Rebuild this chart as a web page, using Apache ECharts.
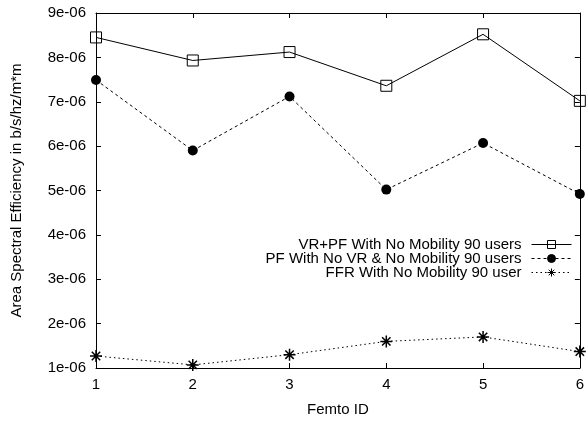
<!DOCTYPE html>
<html><head><meta charset="utf-8">
<script src="https://cdn.jsdelivr.net/npm/echarts@6/dist/echarts.min.js"></script>
<style>html,body{margin:0;padding:0;background:#fff}#c{width:587px;height:422px}</style>
</head><body><div id="c"></div>
<script>
const categories = [1, 2, 3, 4, 5, 6];
const seriesNames = ['VR+PF With No Mobility 90 users', 'PF With No VR & No Mobility 90 users', 'FFR With No Mobility 90 user'];
const vrpf = [8.45e-6, 7.93e-6, 8.12e-6, 7.36e-6, 8.52e-6, 7.02e-6];
const pfNoVr = [7.49e-6, 5.90e-6, 7.12e-6, 5.02e-6, 6.07e-6, 4.92e-6];
const ffr = [1.27e-6, 1.07e-6, 1.30e-6, 1.60e-6, 1.70e-6, 1.37e-6];
const yTicks = [1e-6, 2e-6, 3e-6, 4e-6, 5e-6, 6e-6, 7e-6, 8e-6, 9e-6];

const font = 'Liberation Sans, Arial, Helvetica, sans-serif';
const fs = 15;
const chart = echarts.init(document.getElementById('c'), null, {renderer: 'canvas'});
const toPairs = arr => arr.map((v, i) => [categories[i], v]);
const fmtY = v => Math.round(v * 1e6) + 'e-06';
const star = 'path://M0,5L10,5M5,0L5,10M1.5,1.5L8.5,8.5M8.5,1.5L1.5,8.5';
const legendBase = {orient: 'vertical', right: 10, itemWidth: 40, itemHeight: 10, itemGap: 4, align: 'right',
  lineStyle: {width: 1}, itemStyle: {borderWidth: 1},
  textStyle: {fontFamily: font, fontSize: fs, color: '#000', padding: [0, 5, 0, 0]}, selectedMode: false};
const option = {
  animation: false,
  backgroundColor: '#fff',
  grid: {left: 96, right: 5, top: 13, bottom: 53, show: false},
  legend: [
    Object.assign({}, legendBase, {top: 232, data: [seriesNames[0]]}),
    Object.assign({}, legendBase, {top: 246, data: [seriesNames[1]]}),
    Object.assign({}, legendBase, {top: 260, data: [seriesNames[2]]})
  ],
  xAxis: [{
    type: 'value', min: 1, max: 6, interval: 1,
    name: 'Femto ID', nameLocation: 'middle', nameGap: 34,
    nameTextStyle: {fontFamily: font, fontSize: fs, color: '#000'},
    axisLine: {lineStyle: {color: '#000', width: 1}},
    axisTick: {inside: true, length: 5, lineStyle: {color: '#000'}},
    axisLabel: {fontFamily: font, fontSize: fs, color: '#000', margin: 9},
    splitLine: {show: false}
  }, {
    type: 'value', min: 1, max: 6, interval: 1, position: 'top',
    axisLine: {lineStyle: {color: '#000', width: 1}},
    axisTick: {inside: true, length: 5, lineStyle: {color: '#000'}},
    axisLabel: {show: false}, splitLine: {show: false}
  }],
  yAxis: [{
    type: 'value', min: 1e-6, max: 9e-6, interval: 1e-6,
    name: 'Area Spectral Efficiency in b/s/hz/m*m', nameLocation: 'middle', nameGap: 72,
    nameTextStyle: {fontFamily: font, fontSize: fs, color: '#000'},
    axisLine: {show: true, lineStyle: {color: '#000', width: 1}},
    axisTick: {show: true, inside: true, length: 5, lineStyle: {color: '#000'}},
    axisLabel: {fontFamily: font, fontSize: fs, color: '#000', margin: 10, formatter: fmtY},
    splitLine: {show: false}
  }, {
    type: 'value', min: 1e-6, max: 9e-6, interval: 1e-6, position: 'right',
    axisLine: {show: true, lineStyle: {color: '#000', width: 1}},
    axisTick: {show: true, inside: true, length: 5, lineStyle: {color: '#000'}},
    axisLabel: {show: false}, splitLine: {show: false}
  }],
  series: [{
    name: seriesNames[0], type: 'line', data: toPairs(vrpf),
    symbol: 'rect', symbolSize: 11, showAllSymbol: true,
    lineStyle: {color: '#000', width: 1, type: 'solid'},
    itemStyle: {color: 'rgba(255,255,255,0)', borderColor: '#000', borderWidth: 1}
  }, {
    name: seriesNames[1], type: 'line', data: toPairs(pfNoVr),
    symbol: 'circle', symbolSize: 10,
    lineStyle: {color: '#000', width: 1, type: [3, 3]},
    itemStyle: {color: '#000', borderColor: '#000', borderWidth: 0}
  }, {
    name: seriesNames[2], type: 'line', data: toPairs(ffr),
    symbol: star, symbolSize: 12,
    lineStyle: {color: '#000', width: 1, type: [1.5, 3]},
    itemStyle: {color: 'rgba(0,0,0,0)', borderColor: '#000', borderWidth: 1.5}
  }]
};
chart.setOption(option);
</script></body></html>
